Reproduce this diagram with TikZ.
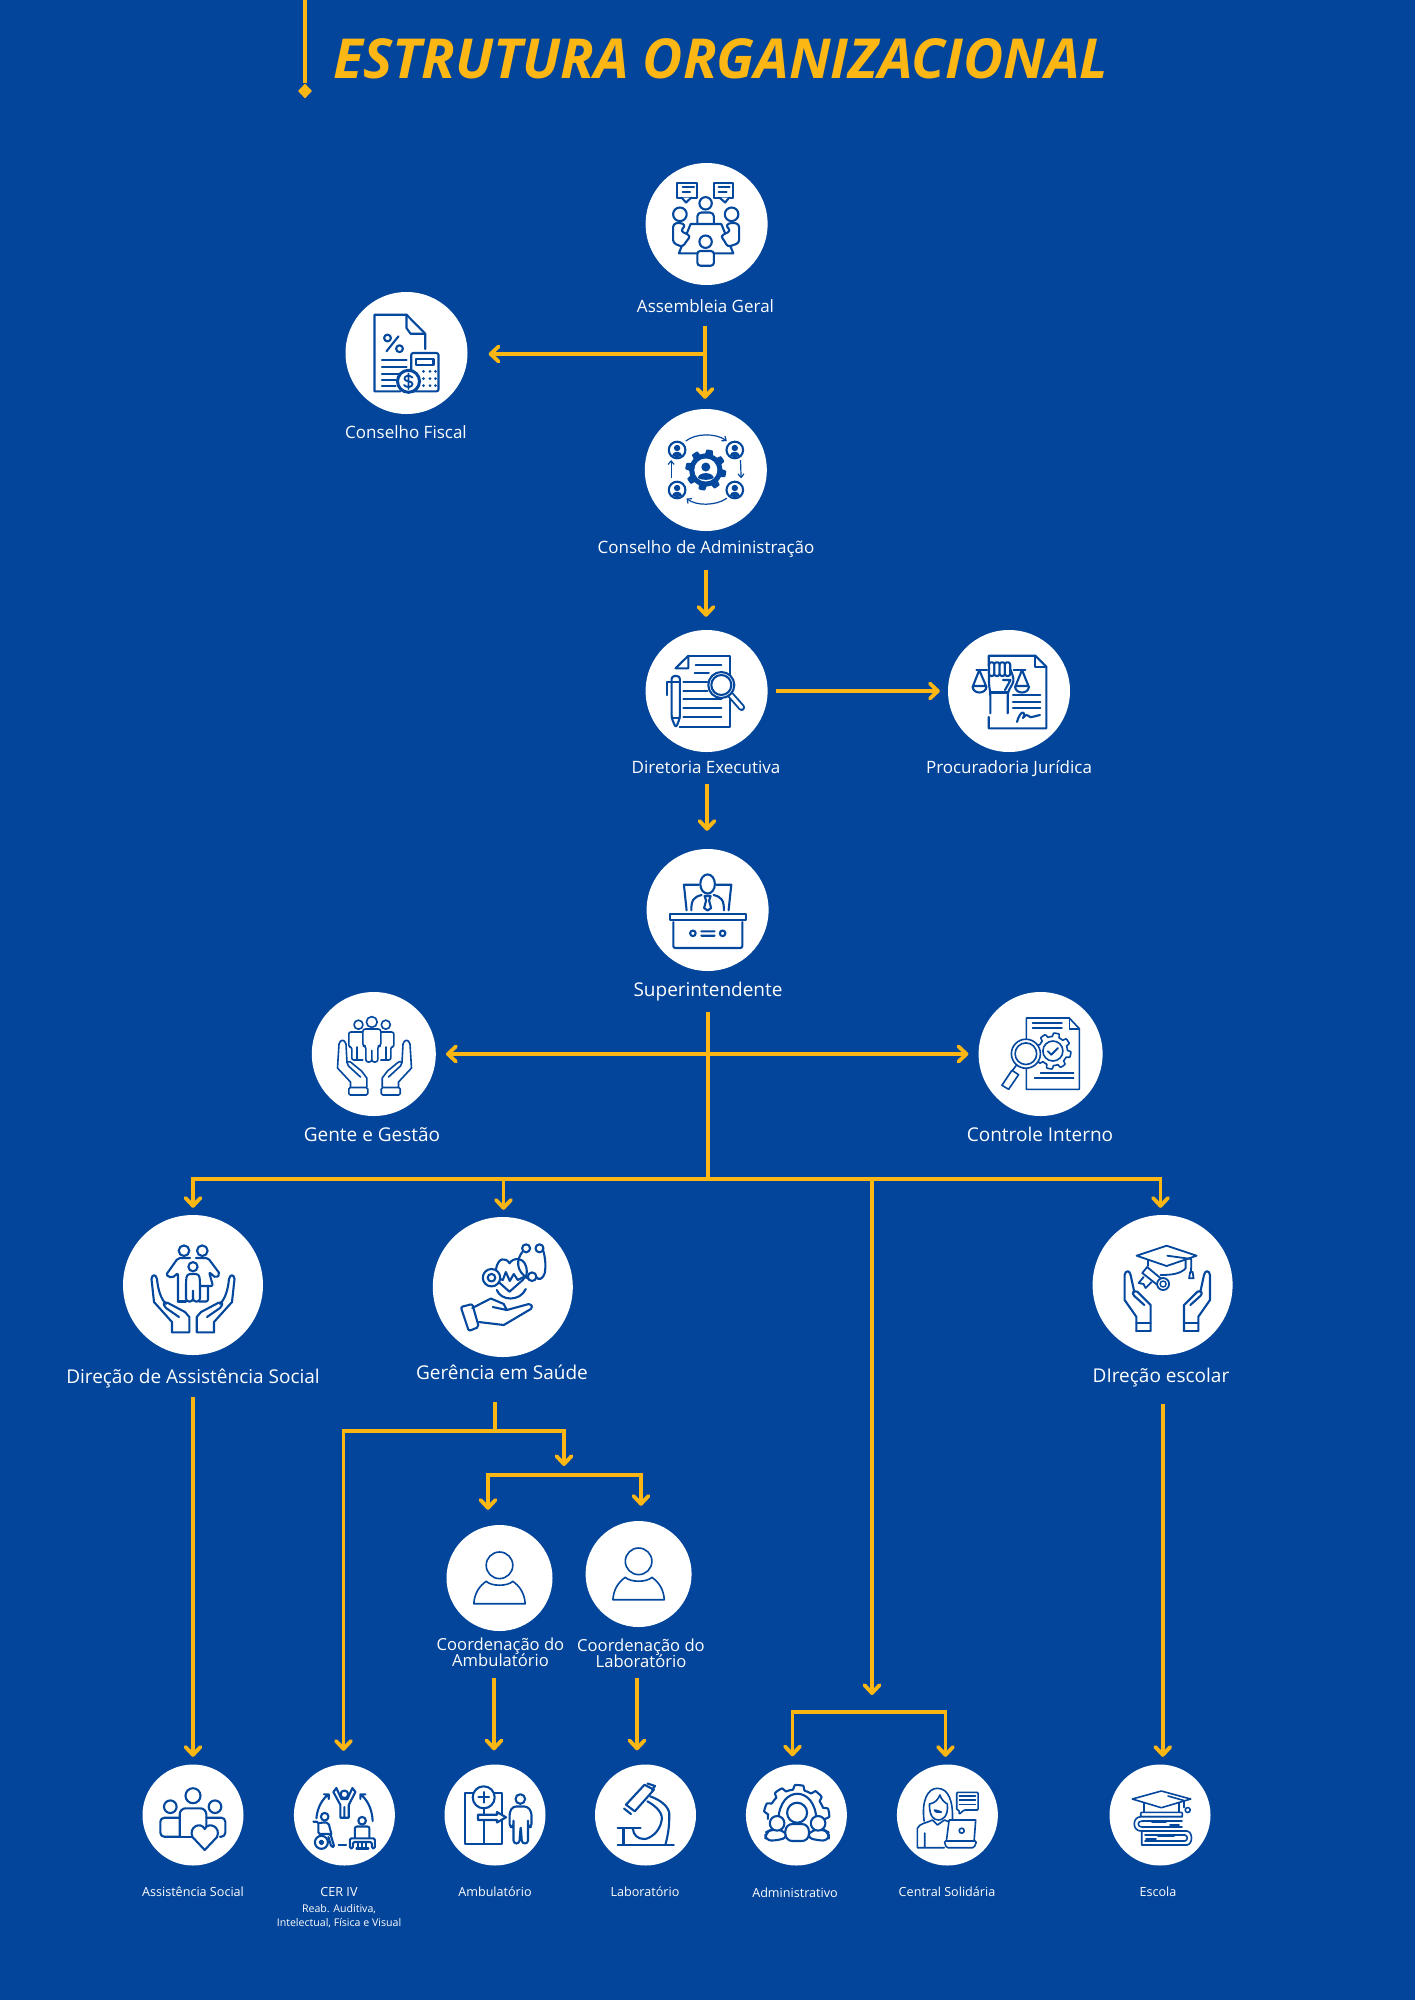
\documentclass[tikz,border=0pt]{standalone}
\usepackage{fontspec}
\setmainfont{Open Sans}
\usetikzlibrary{arrows.meta,shapes.geometric,calc}
\definecolor{bgblue}{HTML}{03459A}
\definecolor{iconblue}{HTML}{04489D}
\definecolor{gold}{HTML}{FDB714}
\tikzset{
  disc/.style={circle,fill=white,inner sep=0pt,minimum size=#1},
  lab/.style={text=white,inner sep=0pt,anchor=base,align=center},
  labL/.style={lab,font=\fontsize{19}{24}\selectfont},
  labM/.style={lab,font=\fontsize{17}{21}\selectfont},
  labC/.style={lab,font=\fontsize{16.6}{16}\selectfont},
  labS/.style={lab,font=\fontsize{12.6}{16}\selectfont},
  wire/.style={draw=gold,line width=3.8pt,line join=miter},
  arw/.style={wire,-{Straight Barb[length=8pt,width=15pt,line width=3.8pt,round]}},
  ic/.style={draw=iconblue,line width=2.1pt,line join=round,line cap=round},
  icf/.style={ic,fill=white},
  ict/.style={draw=iconblue,line width=1.6pt,line join=round,line cap=round},
  ictf/.style={ict,fill=white},
  declare function={gearr(\a,\n,\i,\o)=\i+(\o-\i)*min(1,max(0,0.5+1.6*sin(\n*\a)));}
}
\begin{document}
\begin{tikzpicture}[x=1pt,y=-1pt]
\useasboundingbox (0,0) rectangle (1414,2000);
\fill[bgblue] (-3,-3) rectangle (1417,2003);

% ---------- title
\coordinate (topEnd) at (305,-3);
\node (dia) [diamond,fill=gold,inner sep=0pt,minimum width=14pt,minimum height=15pt] at (305,91) {};
\draw[draw=gold,line width=3.4pt] (topEnd) -- (dia);
\node (title) [anchor=base west,inner sep=0pt,text=gold,font=\fontsize{55.1}{60}\selectfont\bfseries\itshape] at (333,78) {ESTRUTURA ORGANIZACIONAL};

% ---------- discs
\node (asm)  [disc=122pt] at (706.6,224) {};
\node (fis)  [disc=122pt] at (406.5,353) {};
\node (cons) [disc=122pt] at (705.8,470) {};
\node (dir)  [disc=122pt] at (706.6,691) {};
\node (proc) [disc=122pt] at (1009,691) {};
\node (sup)  [disc=122pt] at (707.6,910) {};
\node (gen)  [disc=124pt] at (373.8,1054) {};
\node (ctl)  [disc=124pt] at (1040.6,1054) {};
\node (das)  [disc=140pt] at (193,1285) {};
\node (ger)  [disc=140pt] at (502.8,1287) {};
\node (des)  [disc=140pt] at (1162.6,1285) {};
\node (cam)  [disc=106pt] at (499.5,1578) {};
\node (cla)  [disc=106pt] at (638.6,1574) {};
\node (bas)  [disc=101pt] at (193,1815) {};
\node (bce)  [disc=101pt] at (344.4,1815) {};
\node (bam)  [disc=101pt] at (495,1815) {};
\node (bla)  [disc=101pt] at (645.5,1815) {};
\node (bad)  [disc=101pt] at (796.4,1815) {};
\node (bcs)  [disc=101pt] at (947.4,1815) {};
\node (bes)  [disc=101pt] at (1160,1815) {};

% ---------- labels
\node (lAsm) [labM] at (705.5,312) {Assembleia Geral};
\node (lFis) [labM] at (406,438) {Conselho Fiscal};
\node (lCons)[labM] at (706,553) {Conselho de Administração};
\node (lDir) [labM] at (706,773) {Diretoria Executiva};
\node (lProc)[labM] at (1009,773) {Procuradoria Jurídica};
\node (lSup) [labL] at (708,996) {Superintendente};
\node (lGen) [labL] at (372,1141) {Gente e Gestão};
\node (lCtl) [labL] at (1040,1141) {Controle Interno};
\node (lDas) [labL] at (193,1383) {Direção de Assistência Social};
\node (lGer) [labL] at (502,1379) {Gerência em Saúde};
\node (lDes) [labL] at (1161,1382) {DIreção escolar};
\node (lCam) [labC] at (500.5,1666) {Coordenação do\\[-2.4pt]Ambulatório};
\node (lCla) [labC] at (641,1667) {Coordenação do\\[-2pt]Laboratório};
\node (lBas) [labS] at (193,1896) {Assistência Social};
\node (lBce) [labS] at (339,1896) {CER IV};
\node (lBce2)[lab,font=\fontsize{10.6}{14}\selectfont] at (339,1926) {Reab. Auditiva,\\Intelectual, Física e Visual};
\node (lBam) [labS] at (495,1896) {Ambulatório};
\node (lBla) [labS] at (645,1896) {Laboratório};
\node (lBad) [labS] at (795,1897) {Administrativo};
\node (lBcs) [labS] at (947,1896) {Central Solidária};
\node (lBes) [labS] at (1158,1896) {Escola};

% ---------- connector junctions and free ends
\coordinate (asmOut) at (705,326);
\coordinate (asmJ) at (705,354);
\coordinate (consOut) at (706,570);
\coordinate (dirOut) at (707,784);
\coordinate (supOut) at (708,1012);
\coordinate (busC) at (708,1179);
\coordinate (busL) at (193.5,1179);
\coordinate (busG) at (503.5,1179);
\coordinate (busA) at (872,1179);
\coordinate (busR) at (1160.5,1179);
\coordinate (admTip) at (872,1695);
\coordinate (admJ) at (792.5,1712);
\coordinate (admK) at (945.5,1712);
\coordinate (dasOut) at (193,1397);
\coordinate (desOut) at (1162.8,1404);
\coordinate (gerOut) at (495,1402);
\coordinate (gerJ) at (495,1431);
\coordinate (gerL) at (343.5,1431);
\coordinate (gerR) at (564,1431);
\coordinate (gerTip) at (564,1466);
\coordinate (brL) at (488,1475);
\coordinate (brR) at (641,1475);
\coordinate (camOut) at (494,1678);
\coordinate (claOut) at (637,1678);

% ---------- connectors
\draw[arw,shorten >=10pt] (asmOut) -- (asmOut |- cons.north);
\draw[arw,shorten >=21pt] (asmJ) -- (asmJ -| fis.east);
\draw[arw,shorten >=13pt] (consOut) -- (consOut |- dir.north);
\draw[arw,shorten <=8pt,shorten >=8pt] (dir.east) -- (proc.west);
\draw[arw,shorten >=18pt] (dirOut) -- (dirOut |- sup.north);
\draw[wire] (supOut) -- (busC);
\draw[wire,{Straight Barb[length=8pt,width=15pt,line width=3.8pt,round]}-{Straight Barb[length=8pt,width=15pt,line width=3.8pt,round]},shorten <=10pt,shorten >=10pt] (gen.east) -- (ctl.west);
\draw[arw,shorten >=7pt] (busC) -| (das.north);
\draw[arw,shorten >=7pt] (busC) -| (ger.north -| busG);
\draw[arw,shorten >=7pt] (busC) -| (des.north -| busR);
\draw[arw] (busA) -- (admTip);
\draw[arw,shorten >=8pt] (admK) -| (bad.north -| admJ);
\draw[arw,shorten >=7.5pt] (admJ) -| (bcs.north -| admK);
\draw[arw,shorten >=7.5pt] (dasOut) -- (dasOut |- bas.north);
\draw[arw,shorten >=7.5pt] (desOut) -- (desOut |- bes.north);
\draw[wire] (gerOut) -- (gerJ);
\draw[arw,shorten >=13.5pt] (gerR) -| (bce.north -| gerL);
\draw[arw] (gerJ) -| (gerTip);
\draw[arw,shorten >=15pt] (brR) -| (cam.north -| brL);
\draw[arw,shorten >=15pt] (brL) -| (cla.north -| brR);
\draw[arw,shorten >=14pt] (camOut) -- (camOut |- bam.north);
\draw[arw,shorten >=14pt] (claOut) -- (claOut |- bla.north);

% ---------- icons
% Assembleia Geral
\begin{scope}[shift={(asm.center)}]
 \draw[ic] (-29.3,-41) rectangle (-9.3,-26.3);
 \draw[ic,fill=white] (-25,-26.3) -- (-20.5,-21.5) -- (-15.5,-26.3);
 \draw[ic] (-24,-36.7)--(-12.5,-36.7) (-24,-32.3)--(-16.5,-32.3);
 \draw[ic] (7.3,-41) rectangle (26.7,-26.3);
 \draw[ic,fill=white] (13,-26.3) -- (18.5,-21.5) -- (22.5,-26.3);
 \draw[ic] (12,-36.7)--(23,-36.7) (12,-32.3)--(20,-32.3);
 \draw[ic] (-1,-20.7) circle (6.2);
 \draw[ic,rounded corners=4] (-9.3,0) -- (-9.3,-11.5) -- (7.3,-11.5) -- (7.3,0);
 \draw[icf] (-16,0) -- (14.7,0) -- (26.7,29.3) -- (-27.7,29.3) -- cycle;
 \draw[icf,rounded corners=3] (-9.3,41.7) -- (-9.3,27) -- (7.3,27) -- (7.3,41.7) -- cycle;
 \draw[icf] (-1,17.7) circle (6.2);
 \draw[ic] (-26.7,-9.7) circle (6.8);
 \draw[ic] (25,-9.7) circle (6.8);
 \draw[icf,rounded corners=3] (-24,23) -- (-33.5,19) -- (-33.5,0) -- (-27,-1.5) -- (-21,1) -- (-26,7) -- (-16,12) -- (-20,17) -- cycle;
 \draw[icf,rounded corners=3] (21,23) -- (32.5,19) -- (32.5,0) -- (25,-1.5) -- (19,1) -- (24,7) -- (14,12) -- (18,17) -- cycle;
\end{scope}

% Conselho Fiscal
\begin{scope}[shift={(fis.center)}]
 \draw[ic] (18.7,-4) -- (18.7,-19.3) -- (0,-38.3) -- (-32,-38.3) -- (-32,38.3) -- (-6,38.3);
 \draw[ic] (0,-38.3) -- (0,-25) -- (4,-19.3) -- (18.7,-19.3);
 \draw[ic] (-19,-15) circle (3.4) (-7,-4.3) circle (3.4) (-8,-16.7) -- (-20,-1.7);
 \draw[ic] (-24.7,7.3)--(0,7.3) (-24.7,14)--(0,14) (-24.7,20.7)--(-8,20.7) (-24.7,27.3)--(-11,27.3) (-24.7,33.3)--(-11,33.3);
 \draw[icf,rounded corners=2] (4.7,0) rectangle (32,38.3);
 \draw[ic] (9.7,5.7) rectangle (27,12.3);
 \foreach \px in {17,23.5,29} \foreach \py in {18.3,25.7,32.7} \fill[iconblue] (\px,\py) circle (1.5);
 \draw[draw=iconblue,fill=white,line width=3pt] (2,28.3) circle (11);
 \draw[ic,line width=1.8pt] (6,24.5) .. controls (3,21.5) and (-2.5,22.5) .. (-2,26) .. controls (-1.5,29) and (6,27.5) .. (6,31) .. controls (6,34.5) and (0,35) .. (-2.5,32) (2,20.5) -- (2,36);
\end{scope}

% Conselho de Administracao
\begin{scope}[shift={(cons.center)}]
 \fill[iconblue] plot[domain=0:360,samples=193,variable=\a] ({gearr(\a,8,16.5,20.5)*cos(\a)},{gearr(\a,8,16.5,20.5)*sin(\a)}) -- cycle;
 \fill[white] (0,0) circle (11.5);
 \fill[iconblue] (0,-3) circle (4.5);
 \fill[iconblue] (-8,8) .. controls (-7,1.5) and (7,1.5) .. (8,8) .. controls (4,10.5) and (-4,10.5) .. (-8,8) -- cycle;
 \foreach \px/\py in {-28.7/-20,29/-20,-28.7/20,29/20}{
  \begin{scope}[shift={(\px,\py)}]
   \draw[ic] (0,0) circle (8.3);
   \fill[iconblue] (0,-2) circle (3.2);
   \fill[iconblue] (-5,5.5) .. controls (-4.5,0.5) and (4.5,0.5) .. (5,5.5) .. controls (3,7.5) and (-3,7.5) .. (-5,5.5) -- cycle;
  \end{scope}}
 \draw[draw=iconblue,line width=1.2pt,-{Straight Barb[length=3.5pt,width=6pt,line width=1.2pt]}] (-20,-29) .. controls (-10,-37) and (10,-37) .. (21,-29);
 \draw[draw=iconblue,line width=1.2pt,-{Straight Barb[length=3.5pt,width=6pt,line width=1.2pt]}] (34.7,-10) -- (35.3,8.3);
 \draw[draw=iconblue,line width=1.2pt,-{Straight Barb[length=3.5pt,width=6pt,line width=1.2pt]}] (21,28.3) .. controls (10,36) and (-10,36) .. (-19.3,28.3);
 \draw[draw=iconblue,line width=1.2pt,-{Straight Barb[length=3.5pt,width=6pt,line width=1.2pt]}] (-34.7,8.3) -- (-34.7,-10);
\end{scope}

% Diretoria Executiva
\begin{scope}[shift={(dir.center)}]
 \draw[ic] (-18.3,-35.3) -- (23.3,-35.3) -- (23.3,35.7) -- (-27,35.7);
 \draw[ic] (-18.3,-35.3) -- (-31,-22.7) -- (-18.3,-22.7) -- cycle;
 \draw[ic] (-11,-26)--(14.7,-26) (-12,-17.7)--(2.3,-17.7) (-23.3,-8.7)--(0.7,-8.7) (-23.3,-0.3)--(0.7,-0.3) (-23.3,8.3)--(14.7,8.3) (-23.3,17.3)--(14.7,17.3) (-23.3,26.3)--(14.7,26.3);
 \draw[draw=iconblue,line width=7pt,line cap=round] (24,4) -- (35,16.5);
 \draw[draw=white,line width=3.2pt,line cap=round] (24,4) -- (35,16.5);
 \draw[icf] (14.7,-6) circle (13);
 \draw[ic] (14.7,-6) circle (10);
 \draw[icf,rounded corners=3] (-35,-15) -- (-26.7,-15) -- (-26.7,27) -- (-30.7,37) -- (-35,27) -- cycle;
 \draw[ic] (-35,-9)--(-26.7,-9) (-35,27)--(-26.7,27) (-39.3,4) -- (-39.3,-9.3) -- (-35,-9.3);
\end{scope}

% Procuradoria Juridica
\begin{scope}[shift={(proc.center)}]
 \draw[ic] (-20.3,-25) -- (-20.3,-35.3) -- (26.3,-35.3) -- (37.3,-24.3) -- (37.3,37.3) -- (-20.3,37.3) -- (-20.3,26);
 \draw[ic] (26.3,-35.3) -- (26.3,-24.3) -- (37.3,-24.3);
 \draw[ic] (4,4)--(31.3,4) (4,10.7)--(31.3,10.7) (4,17.3)--(31.3,17.3);
 \draw[ic] (8,31) .. controls (11,19) and (18,19) .. (14,27) .. controls (19,20) and (20,28) .. (23,26) -- (31,24);
 \draw[ic] (-32.7,-21)--(-22,-21) (4.7,-21)--(16.3,-21);
 \draw[ic] (-29.7,-21)--(-36,-5)--(-23,-5)--cycle (13,-21)--(6.5,-5)--(19.5,-5)--cycle;
 \draw[ic] (-36.5,-4.5) .. controls (-36,3.5) and (-23,3.5) .. (-22.5,-4.5);
 \draw[ic] (6,-4.5) .. controls (6.5,3.5) and (19.5,3.5) .. (20,-4.5);
 \draw[icf,rounded corners=3] (-18.7,22.3) -- (-18.7,1.5) -- (-20,-6) -- (-20,-24) -- (0,-24) -- (3,-18) -- (5,-10) -- (-1.3,1.5) -- (-1.3,22.3);
 \foreach \fx in {-20,-14.7,-9.4,-4.1}{
  \draw[icf,rounded corners=2.2] (\fx,-15) -- (\fx,-28.7) -- ({\fx+5.3},-28.7) -- ({\fx+5.3},-15) -- cycle;}
 \draw[ic] (-18.7,1.5)--(-1.3,1.5);
 \draw[ic] (-6,-11) -- (1.5,-11) -- (-4,-1);
\end{scope}

% Superintendente
\begin{scope}[shift={(sup.center)}]
 \draw[ic] (0,-26) ellipse (7.3 and 9.6);
 \draw[ic] (-8.7,-25.3) -- (-23.7,-25.3) -- (-21,0.3) (8.7,-25.3) -- (23.7,-25.3) -- (21,0.3);
 \draw[ic] (-16.3,0.3) .. controls (-16.3,-10) and (-14,-13) .. (-6,-15) (16.3,0.3) .. controls (16.3,-10) and (14,-13) .. (6,-15);
 \draw[ic] (-3,-14)--(3,-14)--(1.5,-9.5)--(3.5,-2)--(0,0.5)--(-3.5,-2)--(-1.5,-9.5)--cycle;
 \draw[ic] (-37.7,4) rectangle (38,9.7);
 \draw[ic,rounded corners=2] (-34.3,12) -- (-34.3,38) -- (34.7,38) -- (34.7,12);
 \draw[ic] (-14.7,23.3) circle (2.8) (15,23.3) circle (2.8) (-6.3,21.3)--(7,21.3) (-6.3,25.7)--(7,25.7);
\end{scope}

% Gente e Gestao
\begin{scope}[shift={(gen.center)}]
 \draw[ict] (-2,-32) circle (5.4) (-15.3,-29.3) circle (4.5) (12,-29.3) circle (4.5);
 \draw[ictf,rounded corners=2] (-11,-22) -- (-25,-22) -- (-25,-7) -- (-22,-7) -- (-22,6) -- (-11,6);
 \draw[ictf,rounded corners=2] (7,-22) -- (20,-22) -- (20,-7) -- (17,-7) -- (17,6) -- (7,6);
 \draw[ict] (-17,-7)--(-17,6) (12,-7)--(12,6);
 \draw[ictf,rounded corners=2.5] (-11,-8) -- (-11,-25) -- (7,-25) -- (7,-8) -- (4,-8) -- (4,8) -- (-2,8) -- (-2,-5) -- (-2,8) -- (-8,8) -- (-8,-8) -- cycle;
 \foreach \sx in {1,-1}{
 \begin{scope}[shift={(0.7,0)},xscale=\sx]
  \draw[ict] (-24,33) -- (-24,28) -- (-37,14) -- (-35.5,-10) .. controls (-34,-15) and (-30,-15) .. (-28.5,-10) -- (-27.5,9) (-7.7,33) -- (-7.7,24) -- (-13,17) -- (-24,8) .. controls (-27,6.5) and (-28,9) .. (-26,12) -- (-14,23);
  \draw[ict,rounded corners=1.5] (-25.7,33.5) rectangle (-6.7,41);
 \end{scope}}
\end{scope}

% Controle Interno
\begin{scope}[shift={(ctl.center)}]
 \draw[ict] (-14.3,-14) -- (-14.3,-36) -- (28.7,-36) -- (38.7,-25.3) -- (38.7,35.3) -- (-14.3,35.3) -- (-14.3,15);
 \draw[ict] (28.7,-36) -- (28.7,-25.3) -- (38.7,-25.3);
 \draw[ict] (-8,-31)--(21.3,-31) (-8,-26)--(21.3,-26) (0,19)--(33,19) (-6,24)--(33,24);
 \begin{scope}[shift={(12.3,-3)}]
  \draw[ictf] plot[domain=0:360,samples=193,variable=\a] ({gearr(\a,8,14.5,18)*cos(\a)},{gearr(\a,8,14.5,18)*sin(\a)}) -- cycle;
  \draw[ict] (0,0) circle (10);
  \draw[ict,line width=1.9pt] (-5,0.3)--(-1.6,3.7)--(5,-3);
 \end{scope}
 \draw[ictf] (-14.7,-0.3) circle (14.5) (-14.7,-0.3) circle (10.8);
 \draw[ict] (-24,11) -- (-28,16.3);
 \draw[ictf] (-28.7,16.3) -- (-38.7,31.3) -- (-32,35.3) -- (-22,20.7) -- cycle;
\end{scope}

% Direcao de Assistencia Social
\begin{scope}[shift={(das.center)}]
 \draw[ic] (-9,-34.3) circle (5.3) (9.3,-34.3) circle (5.3);
 \draw[ic,rounded corners=2] (-15,16.5) -- (-15,-12) -- (-21,-7) -- (-27,-10) -- (-15,-27) -- (-3,-27);
 \draw[ic,rounded corners=2] (3,-27) -- (15,-27) -- (27,-11) -- (23,-7) -- (16,-13) -- (20,1) -- (7,1);
 \draw[ic,rounded corners=2] (6,16.5) -- (15,16.5) -- (15,1);
 \draw[ic] (-15,16.5) -- (-7,16.5);
 \draw[ic] (0,-18.3) circle (4.6);
 \draw[ic,rounded corners=3] (-7,16.5) -- (-7,-4) -- (-6,-11) -- (6,-11) -- (7,-4) -- (7,16.5) -- (0,16.5) -- (0,4) -- (0,16.5) -- cycle;
 \foreach \sx in {1,-1}{
 \begin{scope}[xscale=\sx]
  \draw[ic] (-21,47.3) -- (-3.7,47.3) -- (-3.7,32) -- (-8,27) -- (-25,18) .. controls (-29,16) and (-31,19) .. (-27,23) -- (-14,32);
  \draw[ic] (-21,47.3) -- (-21,37) -- (-39,17) -- (-41.5,-6) .. controls (-41,-11) and (-37,-11) .. (-36,-6) .. controls (-35,5) and (-32,14) .. (-27,19);
 \end{scope}}
\end{scope}

% Gerencia em Saude
\begin{scope}[shift={(ger.center)}]
 \draw[ic] (-7,-17) .. controls (-5,-30) and (3,-30) .. (6.7,-23.7) .. controls (10,-30) and (24,-31) .. (24,-15) .. controls (24,-11) and (22,-9) .. (19.3,-6.5) -- (6.7,4.7) -- (-3,-4);
 \draw[ic] (-6,3) .. controls (-2,14) and (17,15) .. (23,2);
 \draw[icf] (-11.3,-9.3) circle (8.7);
 \draw[ic] (-11.3,-9.3) circle (3.8);
 \draw[ic] (-2.5,-8) -- (0,-7) -- (3,-15) -- (7,-6) -- (11,-13) -- (15,-7) -- (21,-10);
 \draw[ic] (19.5,-35) .. controls (14,-28) and (12,-16) .. (26,-8);
 \draw[ic] (40,-38) .. controls (43,-28) and (43,-20) .. (42,-14) .. controls (40,-8) and (36,-6) .. (33,-10.3);
 \draw[ic] (23.3,-38.7) circle (4) (36.7,-38.7) circle (4);
 \draw[icf] (29.3,-10.3) circle (4.3);
 \draw[ic,rounded corners=2] (-42,20) -- (-30.5,17) -- (-24,40) -- (-34,44) -- cycle;
 \draw[ic] (-30.5,21) -- (-12,11.5) -- (1,17) -- (4,23) -- (-10,20) (4,23) -- (26,17) .. controls (30,18) and (30,21) .. (28,22) -- (1,38) -- (-24,35);
\end{scope}

% Direcao escolar
\begin{scope}[shift={(des.center)}]
 \draw[ic,line width=1.8pt] (-26,-29.3) -- (4,-39.3) -- (34,-29.3) -- (4,-19) -- cycle;
 \draw[ic,line width=1.8pt] (4.7,-29.3) -- (28.7,-26) -- (28.7,-16.7);
 \draw[ic,line width=1.8pt] (23,-25) -- (23,-16.7) .. controls (18,-11) and (8,-10) .. (-2,-10);
 \draw[ic,line width=1.8pt] (-15,-25) -- (-15,-19);
 \draw[icf,line width=1.8pt] (26.5,-6.7) -- (27.5,-13) -- (30,-13) -- (31,-6.7) -- cycle;
 \draw[ic,line width=1.8pt] (28.7,-16.7) -- (28.7,-13);
 \draw[icf,line width=1.8pt] (-20.3,-12) -- (-15.5,-18) -- (5,-1) -- (0,4) -- cycle;
 \draw[icf,line width=1.8pt] (0.5,-1) circle (6);
 \draw[ic,line width=1.4pt] (0.5,-1) circle (3);
 \draw[ic,line width=1.8pt] (-19,-8) -- (-24,-2) -- (-19,-1) -- (-17,3) -- (-11,-3);
 \foreach \sx in {1,-1}{
 \begin{scope}[shift={(4.7,0)},xscale=\sx]
  \draw[ic] (-31,46) -- (-31,31.7) -- (-42.7,15) -- (-42.7,-10) .. controls (-42,-15) and (-37.5,-15) .. (-36.7,-10) -- (-33,7);
  \draw[ic] (-16.7,46) -- (-16.7,20) -- (-30,6.7) .. controls (-34,5) and (-36,8) .. (-33,11) -- (-23,20);
  \draw[ic] (-31,46) -- (-16.7,46) (-31,38.3) -- (-16.7,38.3);
 \end{scope}}
\end{scope}

% Coordenacao do Ambulatorio / Laboratorio
\foreach \cn in {cam,cla}{
\begin{scope}[shift={(\cn.center)}]
 \draw[ict] (0,-12.7) circle (13.3);
 \draw[ict] (-25.7,25.7) .. controls (-25,15) and (-20,8) .. (-13.3,3.3) .. controls (-8,8.5) and (8,8.5) .. (13.3,3.3) .. controls (20,8) and (25,15) .. (25.7,25.7) -- cycle;
\end{scope}}

% Assistencia Social
\begin{scope}[shift={(bas.center)}]
 \draw[ic] (0,-19.3) circle (7.5) (-22.7,-8.3) circle (6.3) (22,-8.3) circle (6.3);
 \draw[ic,rounded corners=4] (-13.3,21.7) -- (-32.7,21.7) -- (-32.7,2.7) -- (-13.3,2.7);
 \draw[ic,rounded corners=4] (13.3,2.7) -- (32.3,2.7) -- (32.3,21.7) -- (27,21.7);
 \draw[ic] (-13.3,21.7) -- (-1,21.7);
 \draw[ic,rounded corners=6] (-13.3,21.7) -- (-13.3,-6.7) -- (13.3,-6.7) -- (13.3,12);
 \draw[icf] (11.7,35) -- (-0.5,22) .. controls (-5,12) and (8,6) .. (11.7,14) .. controls (15.5,6) and (28.5,12) .. (24,22) -- cycle;
\end{scope}

% CER IV
\begin{scope}[shift={(bce.center)}]
 \draw[ic] (0,-20.7) circle (3.8);
 \draw[ic] (-4,2.7) -- (-4,-10) -- (-11,-23) -- (-8,-27) -- (-3,-16) -- (3,-16) -- (8,-27) -- (11,-23) -- (4.3,-10) -- (4.3,2.7) -- cycle (0,-8)--(0,2.7);
 \draw[ic] (-28,3.3) .. controls (-27,-8) and (-22,-16) .. (-15.7,-20.7) -- (-20.5,-20.7) (-15.7,-20.7) -- (-15.7,-16);
 \draw[ic] (28.3,6) .. controls (27.5,-8) and (22,-16) .. (16,-20.7) -- (21,-20.7) (16,-20.7) -- (16,-16);
 \draw[ic] (-19.7,1.7) circle (3.8);
 \draw[ic,rounded corners=1.5] (-31,6.7) -- (-26,6.7) -- (-26,19) -- (-14,19) -- (-10,32) -- (-13,32) -- (-16,22);
 \draw[ic,rounded corners=2] (-25,8) -- (-23,7.5) -- (-16,7.5) -- (-13,19);
 \draw[ic] (-23,27.3) circle (6.5) (-23,27.3) circle (1.8);
 \draw[ic] (-5.7,30)--(1.7,30);
 \draw[ic] (17.7,5.7) circle (3.8);
 \draw[ic,rounded corners=2] (10.5,23) -- (10.5,11.5) -- (25,11.5) -- (25,23);
 \draw[ic,rounded corners=1.5] (5.5,33.5) -- (5.5,23.3) -- (30.5,23.3) -- (30.5,33.5) -- (27.5,33.5) -- (27.5,27) -- (8.5,27) -- (8.5,33.5) -- cycle;
 \draw[ic] (14,27)--(14,33.5) (18,27)--(18,33.5) (22,27)--(22,33.5) (12,33.5)--(24,33.5);
\end{scope}

% Ambulatorio
\begin{scope}[shift={(bam.center)}]
 \draw[ic] (-29.7,-21.7) rectangle (7,29);
 \draw[ic] (-11.3,-8) -- (-11.3,29);
 \draw[icf] (-11.3,-17.7) circle (11);
 \draw[ic] (-16.5,-17.7)--(-6,-17.7) (-11.3,-23)--(-11.3,-12.5);
 \draw[icf] (-17,-0.3) -- (2,-0.3) -- (2,-3) -- (11,2.3) -- (2,7.5) -- (2,5) -- (-17,5) -- cycle;
 \draw[ic] (25.3,-16) circle (4.8);
 \draw[icf,rounded corners=3] (14.6,12) -- (14.6,-3) -- (18,-8.5) -- (32.5,-8.5) -- (36.5,-3) -- (36.5,12) -- (33,12) -- (33,4) -- (33,28.5) -- (27,28.5) -- (25.7,11) -- (24.3,28.5) -- (18.5,28.5) -- (18.5,4) -- (18.5,12) -- cycle;
\end{scope}

% Laboratorio
\begin{scope}[shift={(bla.center)}]
 \draw[ic] (-1,-30.3) -- (8.4,-25.3) -- (-10.7,-3.7) -- (-19.5,-10.3) -- cycle;
 \draw[ic] (2,-31.5) -- (9.5,-29) -- (6.5,-25) (-14.5,-1) -- (-21.5,-6.5);
 \draw[ic] (4.6,-18.7) .. controls (18,-14) and (25,-6) .. (23.7,1.3) .. controls (24,12) and (22,22) .. (19.9,29.7);
 \draw[ic] (1.9,-13.7) .. controls (12,-8) and (18,-1) .. (16,6) .. controls (14,18) and (3,24) .. (-1.1,24) .. controls (-8,24) and (-12,20) .. (-12.6,14);
 \draw[ic] (-27.9,13) -- (-5,13) (-22,13) -- (-22,29.7) (-27.9,29.7) -- (28.3,29.7);
\end{scope}

% Administrativo
\begin{scope}[shift={(bad.center)}]
 \draw[ic] plot[domain=178:362,samples=121,variable=\a] ({gearr(\a,9.5,28.5,33)*cos(\a)},{3+gearr(\a,9.5,28.5,33)*sin(\a)});
 \draw[ic] (-18,5) .. controls (-17,-30) and (19,-30) .. (20,5);
 \draw[ic] (0.7,-2.3) circle (10);
 \draw[icf,rounded corners=6] (-19,25.5) -- (-31,25.5) -- (-31,17.5) -- (-25,14.5) -- (-14,14.5) -- (-8,22) -- cycle;
 \draw[icf,rounded corners=6] (21,25.5) -- (32.5,25.5) -- (32.5,17.5) -- (27,14.5) -- (16,14.5) -- (10,22) -- cycle;
 \draw[icf] (-19.3,8.3) circle (7.3) (21.7,8.3) circle (7.3);
 \draw[icf,rounded corners=7] (-11,26) -- (-11,9) -- (12.5,9) -- (12.5,26) -- cycle;
\end{scope}

% Central Solidaria
\begin{scope}[shift={(bcs.center)}]
 \draw[ict] (-23.3,6) .. controls (-26,-14) and (-20,-26.7) .. (-10,-26.7) .. controls (1,-26.7) and (6,-14) .. (5,6);
 \draw[ict] (-18,-11) .. controls (-12,-12) and (-9,-16) .. (-7.5,-20) .. controls (-6,-15) and (-2,-12) .. (0,-11) .. controls (1,2) and (-5,5) .. (-9,5) .. controls (-14,5) and (-18,1) .. (-18,-11);
 \draw[ict] (-13,-5) .. controls (-12,-2) and (-8,-3) .. (-6,-3);
 \draw[ict,line width=2.4pt] (-12,-4.5) -- (-7,-3);
 \draw[ict] (-30,32.7) -- (-30,13.3) .. controls (-28,8) and (-20,8) .. (-15,5) -- (-10,10) -- (-3,5) -- (2,7) (-30,32.7) -- (-3,32.7) (-22.7,18) -- (-22.7,32.7);
 \draw[ictf] (1.7,5) -- (28.3,5) -- (26.7,26) -- (-1,26) -- cycle;
 \draw[ict] (14.3,15.7) circle (2.5);
 \draw[ictf,rounded corners=1.5] (-3.3,26) -- (29.3,26) -- (26.7,32.7) -- (-1,32.7) -- cycle;
 \draw[ict,rounded corners=1] (16.7,-5) -- (30.7,-5) -- (30.7,-22.7) -- (9.3,-22.7) -- (9.3,-5) -- (11.7,-5) -- (11.7,-0.7) -- cycle;
 \draw[ict] (12,-19.3)--(28,-19.3) (12,-15)--(28,-15) (12,-10.7)--(28,-10.7);
\end{scope}

% Escola
\begin{scope}[shift={(bes.center)}]
 \draw[ict] (-16,-2.7) -- (-16,-11.7) (19,-2.7) -- (19,-11.7);
 \draw[ictf] (-27.7,-16) -- (1.3,-24) -- (30.7,-16) -- (1.3,-7.3) -- cycle;
 \draw[ict] (8,-19) -- (24,-14.5) -- (24,-7.5);
 \draw[ict] (27.7,-5) circle (2.5);
 \draw[ictf,rounded corners=1] (-19.3,-2.7) rectangle (22.3,1.7);
 \draw[ictf] (22.3,1.7) -- (-19,1.7) .. controls (-28,1.7) and (-28,16) .. (-19,16) -- (22.3,16);
 \draw[ict] (22,6) -- (-18,6) .. controls (-23,6) and (-23,12) .. (-18,12) -- (22,12);
 \draw[ict] (-8,7)--(6,7) (10,10)--(19,10);
 \draw[ictf] (-18.3,16) -- (27,16) .. controls (33,17) and (33,29) .. (27,30) -- (-18.3,30) -- cycle;
 \draw[ict] (-15,20) -- (25,20) .. controls (28,21) and (28,25) .. (25,26) -- (-15,26);
 \draw[ict] (-2,21)--(14,21) (-14,24)--(-4,24);
\end{scope}
\end{tikzpicture}
\end{document}
